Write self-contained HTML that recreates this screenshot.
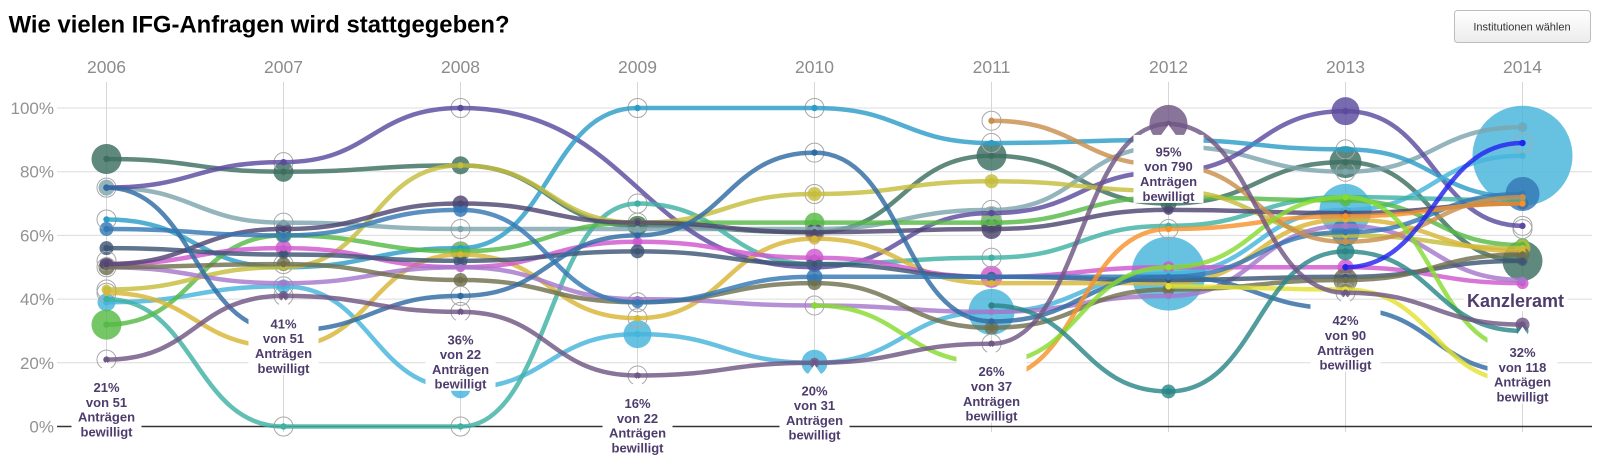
<!DOCTYPE html>
<html>
<head>
<meta charset="utf-8">
<style>
  html,body{margin:0;padding:0;background:#fff;}
  body{width:1600px;height:474px;overflow:hidden;}
  svg{display:block;}
  .yr{font-size:17.5px;fill:#8c8c8c;text-anchor:middle;}
  .yl{font-size:17px;fill:#929292;text-anchor:end;}
  .lb{font-size:13px;font-weight:bold;fill:#4e3d6c;text-anchor:middle;}
</style>
</head>
<body>
<svg id="s" width="1600" height="474" viewBox="0 0 1600 474" font-family="'Liberation Sans', Arial, sans-serif">
  <defs>
    <linearGradient id="bg" x1="0" y1="0" x2="0" y2="1">
      <stop offset="0" stop-color="#ffffff"/>
      <stop offset="1" stop-color="#ececec"/>
    </linearGradient>
  </defs>

  <!-- title -->
  <text x="8.6" y="32.5" font-size="24" font-weight="bold" fill="#000" textLength="501" lengthAdjust="spacingAndGlyphs">Wie vielen IFG-Anfragen wird stattgegeben?</text>

  <!-- button -->
  <rect x="1454.5" y="10.5" width="136" height="32" rx="3" ry="3" fill="url(#bg)" stroke="#bdbdbd"/>
  <text x="1522" y="30.5" font-size="11" fill="#333" text-anchor="middle">Institutionen wählen</text>

  <!-- horizontal gridlines -->
  <g stroke="#dcdcdc" stroke-width="1">
    <line x1="57" y1="108" x2="1592" y2="108"/>
    <line x1="57" y1="171.7" x2="1592" y2="171.7"/>
    <line x1="57" y1="235.4" x2="1592" y2="235.4"/>
    <line x1="57" y1="299.1" x2="1592" y2="299.1"/>
    <line x1="57" y1="362.8" x2="1592" y2="362.8"/>
  </g>

  <!-- y labels -->
  <text class="yl" x="54" y="114">100%</text>
  <text class="yl" x="54" y="177.7">80%</text>
  <text class="yl" x="54" y="241.4">60%</text>
  <text class="yl" x="54" y="305.1">40%</text>
  <text class="yl" x="54" y="368.8">20%</text>
  <text class="yl" x="54" y="432.5">0%</text>

  <g transform="translate(1.5,0)">
  <!-- vertical gridlines -->
  <g stroke="#d6d6d6" stroke-width="1">
    <line x1="105" y1="82" x2="105" y2="432"/>
    <line x1="282" y1="82" x2="282" y2="432"/>
    <line x1="459" y1="82" x2="459" y2="432"/>
    <line x1="636" y1="82" x2="636" y2="432"/>
    <line x1="813" y1="82" x2="813" y2="432"/>
    <line x1="990" y1="82" x2="990" y2="432"/>
    <line x1="1167" y1="82" x2="1167" y2="432"/>
    <line x1="1344" y1="82" x2="1344" y2="432"/>
    <line x1="1521" y1="82" x2="1521" y2="432"/>
  </g>
  </g>
  <!-- baseline -->
  <line x1="57" y1="426.5" x2="1592" y2="426.5" stroke="#333" stroke-width="1.5"/>

  <g transform="translate(1.5,0)">
  <!-- year labels -->
  <text class="yr" x="105" y="73">2006</text>
  <text class="yr" x="282" y="73">2007</text>
  <text class="yr" x="459" y="73">2008</text>
  <text class="yr" x="636" y="73">2009</text>
  <text class="yr" x="813" y="73">2010</text>
  <text class="yr" x="990" y="73">2011</text>
  <text class="yr" x="1167" y="73">2012</text>
  <text class="yr" x="1344" y="73">2013</text>
  <text class="yr" x="1521" y="73">2014</text>

  <g id="circles"></g>
  <g id="rings"></g>
  <g id="lines" fill="none" stroke-width="4.5" stroke-linecap="round"></g>
  <g id="dots"></g>

  <!-- label boxes -->
  <g fill="#fff">
    <rect x="70" y="370.6" width="70" height="68"/>
    <rect x="247" y="306.9" width="70" height="68"/>
    <rect x="424" y="322.8" width="70" height="68"/>
    <rect x="601" y="386.5" width="70" height="68"/>
    <rect x="778" y="373.8" width="70" height="68"/>
    <rect x="955" y="354.7" width="70" height="68"/>
    <rect x="1132" y="134.9" width="70" height="68"/>
    <rect x="1309" y="303.7" width="70" height="68"/>
    <rect x="1486" y="335.6" width="70" height="68"/>
    <polygon points="98,371.6 112,371.6 105,361.6"/>
    <polygon points="275,307.9 289,307.9 282,297.9"/>
    <polygon points="452,323.8 466,323.8 459,313.8"/>
    <polygon points="629,387.5 643,387.5 636,377.5"/>
    <polygon points="806,374.8 820,374.8 813,364.8"/>
    <polygon points="983,355.7 997,355.7 990,345.7"/>
    <polygon points="1159,135.9 1175,135.9 1167,124.9"/>
    <polygon points="1337,304.7 1351,304.7 1344,294.7"/>
    <polygon points="1514,336.6 1528,336.6 1521,326.6"/>
    <rect x="1462" y="289" width="104" height="22"/>
  </g>

  <!-- label texts -->
  <text class="lb" x="105" y="392.1">21%</text>
  <text class="lb" x="105" y="406.9">von 51</text>
  <text class="lb" x="105" y="421.7">Anträgen</text>
  <text class="lb" x="105" y="436.5">bewilligt</text>

  <text class="lb" x="282" y="328.4">41%</text>
  <text class="lb" x="282" y="343.2">von 51</text>
  <text class="lb" x="282" y="358">Anträgen</text>
  <text class="lb" x="282" y="372.8">bewilligt</text>

  <text class="lb" x="459" y="344.3">36%</text>
  <text class="lb" x="459" y="359.1">von 22</text>
  <text class="lb" x="459" y="373.9">Anträgen</text>
  <text class="lb" x="459" y="388.7">bewilligt</text>

  <text class="lb" x="636" y="408">16%</text>
  <text class="lb" x="636" y="422.8">von 22</text>
  <text class="lb" x="636" y="437.6">Anträgen</text>
  <text class="lb" x="636" y="452.4">bewilligt</text>

  <text class="lb" x="813" y="395.3">20%</text>
  <text class="lb" x="813" y="410.1">von 31</text>
  <text class="lb" x="813" y="424.9">Anträgen</text>
  <text class="lb" x="813" y="439.7">bewilligt</text>

  <text class="lb" x="990" y="376.2">26%</text>
  <text class="lb" x="990" y="391">von 37</text>
  <text class="lb" x="990" y="405.8">Anträgen</text>
  <text class="lb" x="990" y="420.6">bewilligt</text>

  <text class="lb" x="1167" y="156.4">95%</text>
  <text class="lb" x="1167" y="171.2">von 790</text>
  <text class="lb" x="1167" y="186">Anträgen</text>
  <text class="lb" x="1167" y="200.8">bewilligt</text>

  <text class="lb" x="1344" y="325.2">42%</text>
  <text class="lb" x="1344" y="340">von 90</text>
  <text class="lb" x="1344" y="354.8">Anträgen</text>
  <text class="lb" x="1344" y="369.6">bewilligt</text>

  <text class="lb" x="1521" y="357.1">32%</text>
  <text class="lb" x="1521" y="371.9">von 118</text>
  <text class="lb" x="1521" y="386.7">Anträgen</text>
  <text class="lb" x="1521" y="401.5">bewilligt</text>

  <text x="1514" y="307" font-size="18" font-weight="bold" fill="#4e3d6c" text-anchor="middle">Kanzleramt</text>
  </g>
</svg>

<script>
(function(){
  var NS = "http://www.w3.org/2000/svg";
  function X(i){ return 105 + 177*i; }
  function Y(p){ return 426.5 - 3.185*p; }
  var n = null;
  var S = [
    ['#3d6f60',[84,80,82,63,61,85,70,83,52],[15,10,9,10,5,15,8,16,20]],
    ['#7ea5ad',[75,64,62,62,62,68,88,80,94],[8,4,3,3,3,4,3,4,5]],
    ['#5b4b9f',[75,83,100,n,50,67,80,99,63],[3,3,2,0,3,3,3,14,4]],
    ['#2d9dc8',[65,50,56,100,100,89,90,87,72],[3,3,3,3,3,3,3,4,4]],
    ['#46b5dc',[39,44,12,29,20,36,48,68,85],[9,7,10,14,13,23,37,26,50]],
    ['#3fb1a3',[40,0,0,70,51,53,63,72,71],[3,2,2,3,3,3,3,4,4]],
    ['#56ba46',[32,60,55,64,64,64,72,71,57],[15,8,10,6,10,11,4,6,7]],
    ['#c5bd3d',[43,50,82,64,73,77,74,60,56],[5,4,4,5,7,7,4,5,8]],
    ['#d8b636',[42,25,54,34,59,45,45,65,55],[4,3,3,3,6,4,3,4,5]],
    ['#cf58cf',[51,56,50,58,53,47,50,50,45],[6,8,5,5,9,11,6,8,6]],
    ['#a678cc',[50,45,50,40,38,36,41,63,46],[4,4,4,4,4,4,4,4,4]],
    ['#3e5675',[56,54,52,55,51,47,46,47,52],[7,5,7,7,8,5,4,4,5]],
    ['#70704f',[50,51,46,39,45,31,43,46,54],[8,7,7,4,7,7,6,12,7]],
    ['#4f4672',[51,62,70,64,61,62,68,67,70],[7,8,8,5,9,10,5,6,6]],
    ['#2f6ba2',[75,30,41,60,86,33,47,37,17],[3,3,2,3,3,4,3,3,3]],
    ['#3478b5',[62,60,68,39,47,47,47,61,73],[7,7,7,6,8,4,4,14,17]],
    ['#f6922c',[n,n,n,n,n,15,62,66,70],[0,0,0,0,0,3,4,4,4]],
    ['#c98f4d',[n,n,n,n,n,96,82,58,72],[0,0,0,0,0,4,3,4,4]],
    ['#87dc31',[n,n,n,n,38,20,50,72,24],[0,0,0,0,3,3,3,4,3]],
    ['#e4e232',[n,n,n,n,n,n,44,43,14],[0,0,0,0,0,0,4,4,3]],
    ['#2b8686',[n,n,n,n,n,38,11,55,30],[0,0,0,0,0,4,7,9,6]],
    ['#2323ee',[n,n,n,n,n,n,n,50,89],[0,0,0,0,0,0,0,3,3]],
    ['#6f5684',[21,41,36,16,20,26,95,42,32],[4,5,4,4,5,4,19,5,7]]
  ];
  var rings = [
    [0,75],[0,65],[0,52],[0,50],[0,43],[0,42],[0,21],
    [1,83],[1,64],[1,51],[1,44],[1,41],[1,0],
    [2,100],[2,62],[2,55],[2,41],[2,36],[2,0],
    [3,100],[3,70],[3,64],[3,39],[3,34],[3,16],
    [4,100],[4,86],[4,73],[4,61],[4,38],
    [5,96],[5,89],[5,68],[5,66],[5,53],[5,26],
    [6,62],
    [7,87],[7,80],[7,45],[7,42],
    [8,89],[8,63],[8,62]
  ];
  var gC = document.getElementById('circles');
  var gR = document.getElementById('rings');
  var gL = document.getElementById('lines');
  var gD = document.getElementById('dots');
  function el(tag, attrs, parent){
    var e = document.createElementNS(NS, tag);
    for (var k in attrs) e.setAttribute(k, attrs[k]);
    parent.appendChild(e); return e;
  }
  S.forEach(function(s){
    s[1].forEach(function(p,i){
      if (p === null) return;
      var r = s[2][i] || 3;
      if (r > 4) el('circle',{cx:X(i),cy:Y(p),r:r,fill:s[0],'fill-opacity':0.82},gC);
    });
  });
  rings.forEach(function(q){
    el('circle',{cx:X(q[0]),cy:Y(q[1]),r:9.5,fill:'none',stroke:'#a8a8a8','stroke-width':1},gR);
  });
  S.forEach(function(s){
    var d = '', prev = null;
    s[1].forEach(function(p,i){
      if (p === null) return;
      var x = X(i), y = Y(p);
      if (!prev) d += 'M' + x + ',' + y;
      else {
        var m = (prev[0] + x) / 2;
        d += ' C' + m + ',' + prev[1] + ' ' + m + ',' + y + ' ' + x + ',' + y;
      }
      prev = [x,y];
    });
    el('path',{d:d,stroke:s[0],'stroke-opacity':0.82},gL);
    s[1].forEach(function(p,i){
      if (p === null) return;
      el('circle',{cx:X(i),cy:Y(p),r:3.2,fill:s[0]},gD);
    });
  });
})();
</script>
</body>
</html>
